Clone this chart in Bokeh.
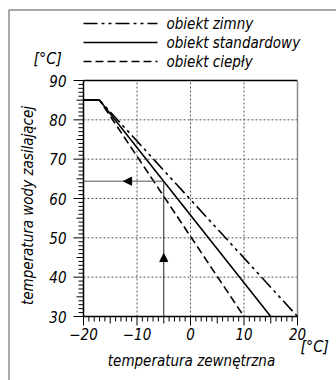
import math
from bokeh.plotting import figure
from bokeh.models import Range1d, Arrow, NormalHead
from bokeh.core.properties import value
from bokeh.embed import file_html
from bokeh.resources import INLINE

# ---------------- data ----------------
series_names = ["obiekt zimny", "obiekt standardowy", "obiekt ciepły"]
x_end_30 = [20, 15, 10]        # outdoor temp at which supply temp reaches 30 °C
t_out_break = -17              # outdoor temp where curves leave the plateau
t_supply_max = 85
t_supply_min = 30
x_min, x_max = -20, 20
y_min, y_max = 30, 90
x_major = [-20, -10, 0, 10, 20]
x_tick_labels = ["−20", "−10", "0", "10", "20"]
y_major = [30, 40, 50, 60, 70, 80, 90]
y_tick_labels = ["30", "40", "50", "60", "70", "80", "90"]
read_x = -5                    # example reading
read_y = 64.4
arrow_up_y = 46
arrow_left_x = -12.5
y_title = "temperatura wody zasilającej"
x_title = "temperatura zewnętrzna"
unit = "[°C]"

# ---------------- layout (pixels) ----------------
W, H = 336, 380
FL, FT, FR, FB = 83, 80, 297, 316
PXX = (FR - FL) / (x_max - x_min)
PXY = (FB - FT) / (y_max - y_min)
x0 = x_min - FL / PXX
x1 = x0 + W / PXX
y_top = y_max + FT / PXY
y_bot = y_top - H / PXY

def X(px):
    return x0 + px / PXX

def Y(py):
    return y_top - py / PXY

def dx(px):
    return px / PXX

def dy(px):
    return px / PXY

FONT = value("DejaVu Sans Condensed")
dashes = ["14 4 3 4 3 4", "solid", "8 4"]

p = figure(width=W, height=H, output_backend="svg", toolbar_location=None,
           x_range=Range1d(x0, x1), y_range=Range1d(y_bot, y_top),
           x_axis_location=None, y_axis_location=None,
           min_border=0, min_border_left=0, min_border_right=0,
           min_border_top=0, min_border_bottom=0,
           background_fill_color="white", border_fill_color="white")
p.outline_line_color = None
p.xgrid.visible = False
p.ygrid.visible = False

# outer gray frame
p.line([X(8.5), X(8.5), X(W + 5)], [Y(H + 5), Y(9.5), Y(9.5)], line_color="#8c8c8c", line_width=1.5)

# grid (dotted), one line per grid value
for v in x_major:
    if x_min < v < x_max:
        p.line([v, v], [y_min, y_max], line_color="#555555", line_dash="2 2", line_width=1)
for v in y_major:
    if y_min < v < y_max:
        p.line([x_min, x_max], [v, v], line_color="#555555", line_dash="2 2", line_width=1)

# frame: top black, right gray
p.line([x_min, x_max], [y_max, y_max], line_color="black", line_width=1.5)
p.line([x_max, x_max], [y_max, y_min], line_color="#8c8c8c", line_width=1.5)

# y axis with ticks
p.line([x_min, x_min], [y_min, y_max], line_color="black", line_width=1.5)
yt = list(range(y_min, y_max + 1))
ylen = [10 if v % 10 == 0 else (7 if v % 5 == 0 else 5) for v in yt]
p.segment(x0=[x_min - dx(L) for L in ylen], y0=yt, x1=[x_min] * len(yt), y1=yt,
          line_color="black", line_width=1)
p.text(x=[x_min - dx(17)] * len(y_major), y=y_major, text=y_tick_labels,
       text_font=FONT, text_font_style="italic", text_font_size="15px",
       text_align="right", text_baseline="middle", text_color="black")

# x axis with ticks
p.line([x_min, x_max], [y_min, y_min], line_color="black", line_width=1.5)
xt = list(range(x_min, x_max + 1))
xlen = [9 if v % 10 == 0 else (7 if v % 5 == 0 else 5) for v in xt]
p.segment(x0=xt, y0=[y_min] * len(xt), x1=xt, y1=[y_min - dy(L) for L in xlen],
          line_color="black", line_width=1)
p.text(x=x_major, y=[y_min - dy(11)] * len(x_major), text=x_tick_labels,
       text_font=FONT, text_font_style="italic", text_font_size="15px",
       text_align="center", text_baseline="top", text_color="black")

# curves
for name, xe, dash in zip(series_names, x_end_30, dashes):
    p.line([x_min, t_out_break, xe], [t_supply_max, t_supply_max, t_supply_min],
           line_color="black", line_width=1.6, line_dash=dash)

# reading example
p.line([read_x, read_x], [y_min, read_y], line_color="#222222", line_width=1)
p.line([read_x, x_min], [read_y, read_y], line_color="#555555", line_width=1)
p.add_layout(Arrow(end=NormalHead(size=8, fill_color="black", line_color="black"),
                   x_start=read_x, y_start=arrow_up_y - 2, x_end=read_x, y_end=arrow_up_y,
                   line_alpha=0))
p.add_layout(Arrow(end=NormalHead(size=8, fill_color="black", line_color="black"),
                   x_start=arrow_left_x + 2, y_start=read_y, x_end=arrow_left_x, y_end=read_y,
                   line_alpha=0))

# legend
leg_py = [23, 42, 61]
for name, dash, py in zip(series_names, dashes, leg_py):
    p.line([X(83), X(157)], [Y(py), Y(py)], line_color="black", line_width=1.6, line_dash=dash)
p.text(x=[X(166)] * 3, y=[Y(py) for py in leg_py], text=series_names,
       text_font=FONT, text_font_style="italic", text_font_size="15px",
       text_align="left", text_baseline="middle", text_color="black")

# units and axis titles
p.text(x=[X(33), X(300)], y=[Y(67), Y(355)], text=[unit, unit],
       text_font=FONT, text_font_style="italic", text_font_size="16px",
       text_align="left", text_baseline="bottom", text_color="black")
p.text(x=[X(27)], y=[Y(205)], text=[y_title], angle=math.pi / 2,
       text_font=FONT, text_font_style="italic", text_font_size="15px",
       text_align="center", text_baseline="middle", text_color="black")
p.text(x=[X(191)], y=[Y(360)], text=[x_title],
       text_font=FONT, text_font_style="italic", text_font_size="15px",
       text_align="center", text_baseline="middle", text_color="black")

open("out.html", "w").write(file_html(p, INLINE))
